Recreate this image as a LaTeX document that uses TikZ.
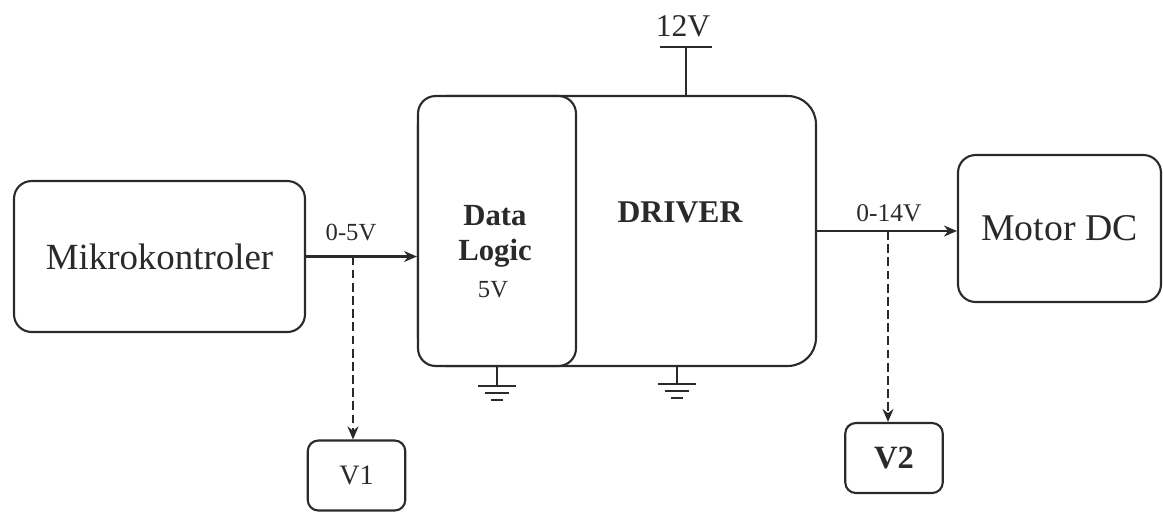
\documentclass[tikz,border=0pt]{standalone}
\usepackage{fontspec}
\setmainfont{Liberation Serif}
\usepackage{xcolor}
\definecolor{cInk}{HTML}{2A2A2A}
\usetikzlibrary{positioning,arrows.meta,calc}
\tikzset{
  block/.style={draw=cInk,line width=1.2pt,rounded corners=10pt,fill=white,
    inner sep=0pt,align=center,text=cInk},
  meter/.style={block,rounded corners=6pt,minimum width=1.95cm,minimum height=1.4cm},
  arrow/.style={-{Stealth[length=2.6mm,width=2.2mm]},line width=1.2pt,draw=cInk},
  arrow-probe/.style={-{Stealth[length=2.6mm,width=2.2mm]},line width=1.2pt,
    dash pattern=on 5pt off 2.5pt,draw=cInk},
  wire/.style={line width=1.2pt,draw=cInk},
  lbl/.style={text=cInk,inner sep=1pt,align=center},
}
\newcommand{\fs}[1]{\fontsize{#1}{#1}\selectfont}

\begin{document}
\begin{tikzpicture}[x=0.02cm,y=-0.02cm]
  \useasboundingbox (0,0) rectangle (1163,512);
  % blocks
  \node[block,minimum width=5.82cm,minimum height=3.02cm,font=\fs{21}]
    (mcu) at (159.5,256.5) {Mikrokontroler};
  \node[block,rounded corners=16pt,minimum width=7.96cm,minimum height=5.4cm]
    (driver) at (617,231) {};
  \node[block,minimum width=3.16cm,minimum height=5.4cm] (logic) at (497,231) {};
  \node[block,minimum width=4.06cm,minimum height=2.94cm,font=\fs{21.5}]
    (motor) at (1059.5,228.5) {Motor DC};
  \node[meter,font=\fs{16}] (v1) at (356.5,475.5) {V1};
  \node[meter,font=\bfseries\fs{18.5}] (v2) at (894,458) {V2};
  % texts inside driver
  \node[lbl,font=\bfseries\fontsize{17.5}{20}\selectfont] (logic-txt) at (495,236) {Data\\Logic};
  \node[lbl,font=\fs{14}] (logic-volt) at (493,290) {5V};
  \node[lbl,font=\bfseries\fs{18}] (driver-txt) at (680,212) {DRIVER};
  % supply
  \coordinate (vcc) at (686,47);
  \draw[wire] (vcc |- driver.north) -- (vcc);
  \draw[wire] ($(vcc)+(-26,0)$) -- ($(vcc)+(26,0)$);
  \node[lbl,font=\fs{18}] (v12) at (683,26) {12V};
  % grounds
  \coordinate (gndA) at (497,386);
  \coordinate (gndB) at (677,384);
  \draw[wire] (gndA |- logic.south) -- (gndA);
  \draw[wire] (gndB |- driver.south) -- (gndB);
  \foreach \g in {gndA,gndB}{
    \draw[wire] ($(\g)+(-19,0)$) -- ($(\g)+(19,0)$);
    \draw[wire] ($(\g)+(-12,7)$) -- ($(\g)+(12,7)$);
    \draw[wire] ($(\g)+(-6,14)$) -- ($(\g)+(6,14)$);
  }
  % signals
  \draw[arrow] (mcu.east) -- (mcu.east -| logic.west);
  \node[lbl,font=\fs{14}] (in-volt) at (351,232) {0-5V};
  \coordinate (probeA) at (353,256.5);
  \draw[arrow-probe] (probeA) -- (probeA |- v1.north);
  \draw[arrow] (driver.east) -- (driver.east -| motor.west);
  \node[lbl,font=\fs{14.5}] (out-volt) at (889,213) {0-14V};
  \coordinate (probeB) at (888,231);
  \draw[arrow-probe] (probeB) -- (probeB |- v2.north);
\end{tikzpicture}
\end{document}
